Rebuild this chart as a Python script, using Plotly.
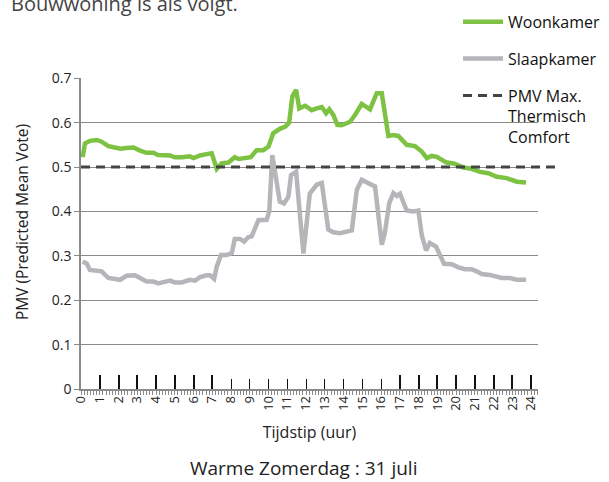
import plotly.graph_objects as go

# PMV per room over the day (hour of day, PMV value)
woon_uur = [0.09, 0.21, 0.48, 0.84, 1.10, 1.46, 1.80, 2.10, 2.40, 2.80, 3.15, 3.50, 3.86, 4.10,
            4.75, 5.00, 5.40, 5.80, 6.00, 6.35, 6.70, 6.97, 7.24, 7.50, 7.86, 8.00, 8.20, 8.40,
            8.75, 9.05, 9.37, 9.72, 10.00, 10.25, 10.60, 10.90, 11.10, 11.27, 11.47, 11.64,
            11.95, 12.30, 12.57, 12.84, 13.07, 13.24, 13.46, 13.67, 13.90, 14.35, 14.61, 14.97,
            15.41, 15.77, 16.04, 16.39, 16.66, 16.92, 17.37, 17.81, 18.17, 18.44, 18.70, 18.97,
            19.50, 19.86, 20.39, 20.83, 21.28, 21.72, 22.17, 22.70, 23.24, 23.73]
woon_pmv = [0.522, 0.553, 0.559, 0.561, 0.557, 0.547, 0.544, 0.541, 0.543, 0.544, 0.537, 0.532,
            0.532, 0.527, 0.526, 0.522, 0.522, 0.524, 0.520, 0.526, 0.529, 0.531, 0.496, 0.508,
            0.510, 0.514, 0.522, 0.518, 0.519, 0.522, 0.538, 0.538, 0.546, 0.576, 0.586, 0.591,
            0.600, 0.659, 0.674, 0.632, 0.638, 0.628, 0.632, 0.635, 0.621, 0.630, 0.617, 0.595,
            0.594, 0.602, 0.617, 0.642, 0.630, 0.666, 0.666, 0.570, 0.572, 0.570, 0.550, 0.547,
            0.535, 0.520, 0.525, 0.523, 0.510, 0.508, 0.499, 0.496, 0.489, 0.486, 0.478, 0.475,
            0.467, 0.465]

slaap_uur = [0.09, 0.30, 0.48, 0.92, 1.10, 1.46, 1.80, 2.08, 2.43, 2.88, 3.15, 3.50, 3.86, 4.12,
             4.75, 5.00, 5.37, 5.80, 6.08, 6.35, 6.70, 6.88, 7.10, 7.24, 7.47, 7.77, 8.04, 8.20,
             8.48, 8.70, 8.92, 9.10, 9.46, 9.90, 10.04, 10.20, 10.60, 10.83, 11.06, 11.20, 11.47,
             11.86, 12.20, 12.57, 12.84, 13.19, 13.46, 13.81, 14.44, 14.71, 14.97, 15.33, 15.68,
             16.04, 16.20, 16.44, 16.66, 16.84, 17.01, 17.37, 17.72, 17.99, 18.17, 18.40, 18.60,
             18.93, 19.15, 19.36, 19.77, 20.12, 20.48, 20.83, 21.10, 21.37, 21.80, 22.17, 22.44,
             22.88, 23.24, 23.73]
slaap_pmv = [0.287, 0.283, 0.268, 0.267, 0.265, 0.250, 0.248, 0.246, 0.255, 0.256, 0.250, 0.242,
             0.242, 0.238, 0.244, 0.240, 0.240, 0.246, 0.244, 0.252, 0.256, 0.256, 0.248, 0.276,
             0.302, 0.302, 0.306, 0.338, 0.338, 0.332, 0.342, 0.344, 0.380, 0.381, 0.400, 0.527,
             0.422, 0.418, 0.433, 0.482, 0.489, 0.305, 0.440, 0.460, 0.464, 0.359, 0.353, 0.351,
             0.357, 0.449, 0.471, 0.464, 0.456, 0.325, 0.351, 0.419, 0.441, 0.435, 0.440, 0.402,
             0.400, 0.402, 0.347, 0.312, 0.329, 0.321, 0.302, 0.282, 0.281, 0.274, 0.270, 0.270,
             0.265, 0.259, 0.257, 0.253, 0.250, 0.250, 0.246, 0.246]

pmv_max = 0.5
uren = list(range(0, 25))
uur_labels = [str(u) for u in uren]
dikke_ticks = [1, 2, 3, 4, 5, 6, 7, 17, 18, 19, 20, 21, 22, 23, 24]
dunne_ticks = [8, 9, 10, 11, 12, 13, 14, 15, 16]
y_ticks = [0, 0.1, 0.2, 0.3, 0.4, 0.5, 0.6, 0.7]
y_labels = ["0", "0.1", "0.2", "0.3", "0.4", "0.5", "0.6", "0.7"]

FONT = "Open Sans"
TEKST = "#222222"
GROEN = "#7dc242"
GRIJS = "#b5b5ba"
DONKER = "#444444"
AS_GRIJS = "#8a8a8a"
X_MAX = 24.37

fig = go.Figure()
fig.add_trace(go.Scatter(x=woon_uur, y=woon_pmv, mode="lines", name="Woonkamer",
                         legendgroup="woon", line=dict(color=GROEN, width=4.5)))
fig.add_trace(go.Scatter(x=slaap_uur, y=slaap_pmv, mode="lines", name="Slaapkamer",
                         legendgroup="slaap", line=dict(color=GRIJS, width=4.5)))
fig.add_trace(go.Scatter(x=[None], y=[None], mode="lines", legendgroup="pmv",
                         name="PMV Max.<br>Thermisch<br>Comfort",
                         line=dict(color=DONKER, width=3, dash="9px,6px")))

# white panel behind the legend, hiding the upper gridlines there
fig.add_shape(type="rect", xref="paper", yref="y", x0=0.792, x1=1.0, y0=0.56, y1=0.7005,
              fillcolor="white", line=dict(width=0), layer="below")

# comfort limit, running slightly past the plot area
fig.add_shape(type="line", xref="paper", yref="y", x0=0, x1=1.048, y0=pmv_max, y1=pmv_max,
              line=dict(color=DONKER, width=3, dash="9px,6px"), layer="above")

axis_common = dict(range=[0, X_MAX], showgrid=False, zeroline=False, fixedrange=True)
fig.update_layout(
    width=609, height=482,
    margin=dict(l=81, r=71, t=78, b=93, autoexpand=False),
    paper_bgcolor="white", plot_bgcolor="white",
    font=dict(family=FONT, size=13, color=TEKST),
    showlegend=True,
    legend=dict(x=0.825, y=1.235, xanchor="left", yanchor="top",
                bgcolor="rgba(255,255,255,0)", font=dict(size=16, family=FONT, color="#111111"),
                tracegroupgap=13, valign="top", itemwidth=40,
                traceorder="grouped"),
    xaxis=dict(**axis_common,
               tickmode="array", tickvals=uren, ticktext=uur_labels, tickangle=-90,
               ticks="", showline=True, linecolor=AS_GRIJS, linewidth=1.5,
               tickfont=dict(size=13, family=FONT, color=TEKST),
               minor=dict(ticks="outside", dtick=1 / 6, tick0=0, ticklen=4,
                          tickcolor=AS_GRIJS, tickwidth=1),
               title=dict(text="Tijdstip (uur)", standoff=17,
                          font=dict(size=16, family=FONT, color=TEKST))),
    xaxis2=dict(**axis_common, overlaying="x", anchor="y", side="bottom",
                tickmode="array", tickvals=dikke_ticks, showticklabels=False,
                ticks="inside", ticklen=14, tickwidth=2, tickcolor="#111111"),
    xaxis3=dict(**axis_common, overlaying="x", anchor="y", side="bottom",
                tickmode="array", tickvals=dunne_ticks, showticklabels=False,
                ticks="inside", ticklen=10, tickwidth=1, tickcolor="#111111"),
    yaxis=dict(range=[0, 0.7005], tickmode="array", tickvals=y_ticks, ticktext=y_labels,
               showgrid=True, gridcolor=AS_GRIJS, gridwidth=1.3, zeroline=False,
               showline=True, linecolor=AS_GRIJS, linewidth=1.5,
               ticks="outside", ticklen=5, tickcolor=AS_GRIJS,
               tickfont=dict(size=14, family=FONT, color=TEKST), fixedrange=True),
)

# empty traces so the overlay axes are drawn
fig.add_trace(go.Scatter(x=[None], y=[None], xaxis="x2", showlegend=False, hoverinfo="skip"))
fig.add_trace(go.Scatter(x=[None], y=[None], xaxis="x3", showlegend=False, hoverinfo="skip"))

fig.add_annotation(text="PMV (Predicted Mean Vote)", xref="paper", yref="paper",
                   x=-0.129, y=0.537, xanchor="center", yanchor="middle", textangle=-90,
                   showarrow=False, font=dict(size=15.5, family=FONT, color=TEKST))
fig.add_annotation(text="Warme Zomerdag : 31 juli", xref="paper", yref="paper",
                   x=0.486, y=-0.206, xanchor="center", yanchor="top", showarrow=False,
                   font=dict(size=19, family=FONT, color=TEKST))
fig.add_annotation(text="Bouwwoning is als volgt.", xref="paper", yref="paper",
                   x=-0.158, y=1.241, xanchor="left", yanchor="middle", showarrow=False,
                   font=dict(size=20, family=FONT, color="#444444"))

fig.write_html("out.html")
